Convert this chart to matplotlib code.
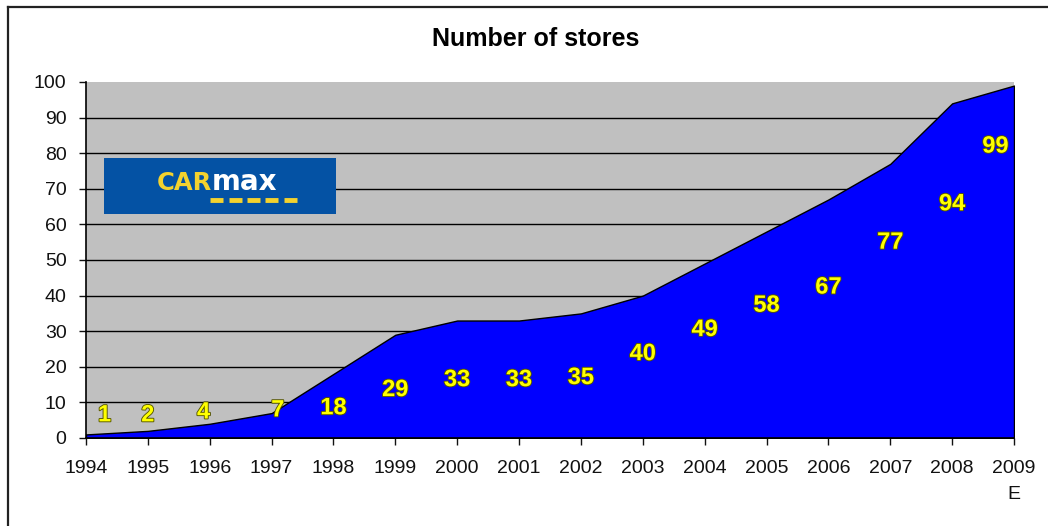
import matplotlib.pyplot as plt
import matplotlib.patheffects as pe
from matplotlib.patches import Rectangle
from matplotlib.lines import Line2D

plt.rcParams['font.family'] = ['Liberation Sans', 'DejaVu Sans']

years = list(range(1994, 2010))
stores = [1, 2, 4, 7, 18, 29, 33, 33, 35, 40, 49, 58, 67, 77, 94, 99]
tick_labels = [str(y) for y in years[:-1]] + ['2009\nE']

# where each value label sits (data units), as laid out in the original sheet
label_x = [1994.3, 1995, 1995.9, 1997.1, 1998, 1999, 2000, 2001, 2002, 2003,
           2004, 2005, 2006, 2007, 2008, 2008.7]
label_y = [6.5, 6.5, 7.3, 7.9, 8.5, 13.6, 16.4, 16.4, 17, 23.7,
           30.5, 37.3, 42.4, 55, 65.8, 82]

W, H = 1048, 526
fig = plt.figure(figsize=(W / 100, H / 100), dpi=100)

# outer frame (top and left edge only are inside the image)
fig.add_artist(Line2D([8 / W, 1], [1 - 7 / H, 1 - 7 / H], color='#222222', lw=1.6))
fig.add_artist(Line2D([8 / W, 8 / W], [0, 1 - 7 / H], color='#222222', lw=1.6))

ax = fig.add_axes([86 / W, (H - 438) / H, (1014 - 86) / W, (438 - 82) / H])
ax.set_facecolor('#C0C0C0')
ax.set_xlim(1994, 2009)
ax.set_ylim(0, 100)

for v in range(10, 100, 10):
    ax.axhline(v, color='black', lw=1.0, zorder=1)

ax.fill_between(years, stores, 0, color='#0000FF', edgecolor='black', lw=1.0, zorder=2)

for x, y, v in zip(label_x, label_y, stores):
    ax.text(x, y, str(v), ha='center', va='center', fontsize=17, fontweight='bold',
            color='#FFFF00', zorder=4,
            path_effects=[pe.withStroke(linewidth=1.3, foreground='#555500')])

ax.set_xticks(years)
ax.set_xticklabels(tick_labels, linespacing=1.7)
ax.set_yticks(range(0, 101, 10))
ax.tick_params(axis='both', labelsize=14, colors='#111111', length=5, width=1)
ax.tick_params(axis='x', pad=11)
ax.tick_params(axis='y', pad=9)
for s in ['top', 'right']:
    ax.spines[s].set_visible(False)
for s in ['left', 'bottom']:
    ax.spines[s].set_linewidth(1.2)
    ax.spines[s].set_zorder(5)

fig.text(536 / W, 1 - 39 / H, 'Number of stores', ha='center', va='center',
         fontsize=18, fontweight='bold', color='black')

# CarMax logo box
logo = fig.add_axes([104 / W, (H - 214) / H, 232 / W, 56 / H])
logo.set_xlim(0, 1)
logo.set_ylim(0, 1)
logo.axis('off')
logo.add_patch(Rectangle((0, 0), 1, 1, color='#0452A4'))
logo.text(0.4655, 0.43, 'CAR', ha='right', va='baseline', fontsize=17.5,
          fontweight='bold', color='#F4D22E', family='DejaVu Sans')
logo.text(0.4655, 0.43, 'max', ha='left', va='baseline', fontsize=20,
          fontweight='bold', color='white', family='DejaVu Sans')
dash_w, gap_w = 0.056, 0.0237
for i in range(5):
    x0 = 0.457 + i * (dash_w + gap_w)
    logo.plot([x0, x0 + dash_w], [0.25, 0.25], color='#F4D22E', lw=3.5,
              solid_capstyle='butt')

fig.savefig('out.png', dpi=100)
